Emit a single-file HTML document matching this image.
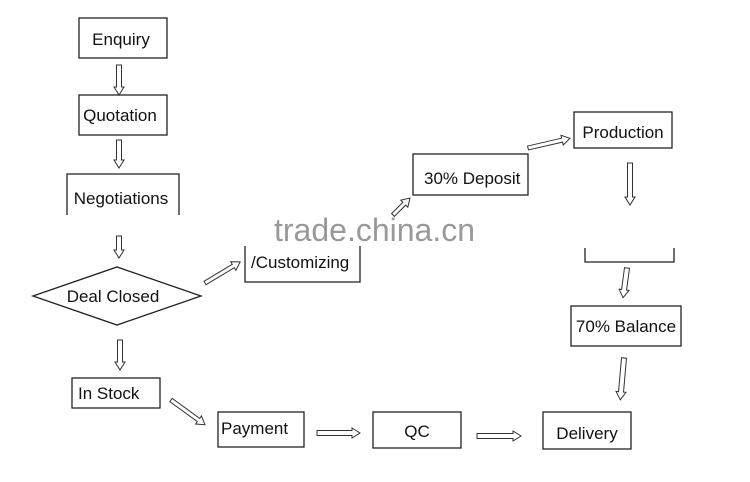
<!DOCTYPE html>
<html><head><style>
body{margin:0;background:#fff;width:750px;height:482px;overflow:hidden}
svg{display:block}
text{font-family:"Liberation Sans",Arial,sans-serif;font-size:17px;fill:#111}
.b{fill:#fff;stroke:#222;stroke-width:1.3}
.a{fill:#fff;stroke:#333;stroke-width:1}
</style></head><body>
<svg width="750" height="482" viewBox="0 0 750 482" xmlns="http://www.w3.org/2000/svg">
<rect class="b" x="79" y="18" width="88" height="40"/>
<text x="121" y="45" text-anchor="middle">Enquiry</text>
<rect class="b" x="79" y="95" width="88" height="40"/>
<text x="120" y="121" text-anchor="middle">Quotation</text>
<path style="fill:none;stroke:#222;stroke-width:1.3" d="M67,215 V174 H179 V215"/>
<text x="121" y="204" text-anchor="middle">Negotiations</text>
<polygon class="b" points="33,296 117,267 201,296 117,325"/>
<text x="113" y="302" text-anchor="middle">Deal Closed</text>
<path style="fill:none;stroke:#222;stroke-width:1.3" d="M245,246 V282 H360 V246"/>
<text x="251" y="268">/Customizing</text>
<rect class="b" x="413" y="154" width="115" height="41"/>
<text x="424" y="184">30% Deposit</text>
<rect class="b" x="574" y="112" width="98" height="36"/>
<text x="623" y="138" text-anchor="middle">Production</text>
<path style="fill:none;stroke:#222;stroke-width:1.3" d="M585,248 V262 H674 V248"/>
<rect class="b" x="571" y="306" width="110" height="40"/>
<text x="626" y="332" text-anchor="middle">70% Balance</text>
<rect class="b" x="72" y="378" width="88" height="30"/>
<text x="78" y="399">In Stock</text>
<rect class="b" x="218" y="412" width="86" height="35"/>
<text x="221" y="434">Payment</text>
<rect class="b" x="373" y="412" width="88" height="36"/>
<text x="417" y="437" text-anchor="middle">QC</text>
<rect class="b" x="543" y="412" width="88" height="37"/>
<text x="587" y="439" text-anchor="middle">Delivery</text>
<g class="a">
<g transform="translate(119,65) rotate(90)"><polygon points="0,-2.5 22,-2.5 22,-5 30,0 22,5 22,2.5 0,2.5"/></g>
<g transform="translate(119,140) rotate(90)"><polygon points="0,-2.5 20,-2.5 20,-5 28,0 20,5 20,2.5 0,2.5"/></g>
<g transform="translate(119,236) rotate(90)"><polygon points="0,-2.5 14,-2.5 14,-5 22,0 14,5 14,2.5 0,2.5"/></g>
<g transform="translate(205,283) rotate(-31)"><polygon points="0,-2 33,-2 33,-5 41,0 33,5 33,2 0,2"/></g>
<g transform="translate(393,215) rotate(-45)"><polygon points="0,-2 16,-2 16,-5 24,0 16,5 16,2 0,2"/></g>
<g transform="translate(528,148) rotate(-13)"><polygon points="0,-2 35,-2 35,-5 43,0 35,5 35,2 0,2"/></g>
<g transform="translate(630,163) rotate(90)"><polygon points="0,-2.5 34,-2.5 34,-5 42,0 34,5 34,2.5 0,2.5"/></g>
<g transform="translate(627,268) rotate(97.6)"><polygon points="0,-2.5 22,-2.5 22,-5 30,0 22,5 22,2.5 0,2.5"/></g>
<g transform="translate(624,358) rotate(95)"><polygon points="0,-2.5 34,-2.5 34,-5 42,0 34,5 34,2.5 0,2.5"/></g>
<g transform="translate(120,340) rotate(90)"><polygon points="0,-2.5 22,-2.5 22,-5 30,0 22,5 22,2.5 0,2.5"/></g>
<g transform="translate(171,400) rotate(36)"><polygon points="0,-2 34,-2 34,-5 42,0 34,5 34,2 0,2"/></g>
<g transform="translate(317,433) rotate(0)"><polygon points="0,-2.5 35,-2.5 35,-5 43,0 35,5 35,2.5 0,2.5"/></g>
<g transform="translate(477,436) rotate(0)"><polygon points="0,-2.5 36,-2.5 36,-5 44,0 36,5 36,2.5 0,2.5"/></g>
</g>
<text x="274" y="241" style="font-size:32px;fill:#999">trade.china.cn</text>
</svg>
</body></html>
